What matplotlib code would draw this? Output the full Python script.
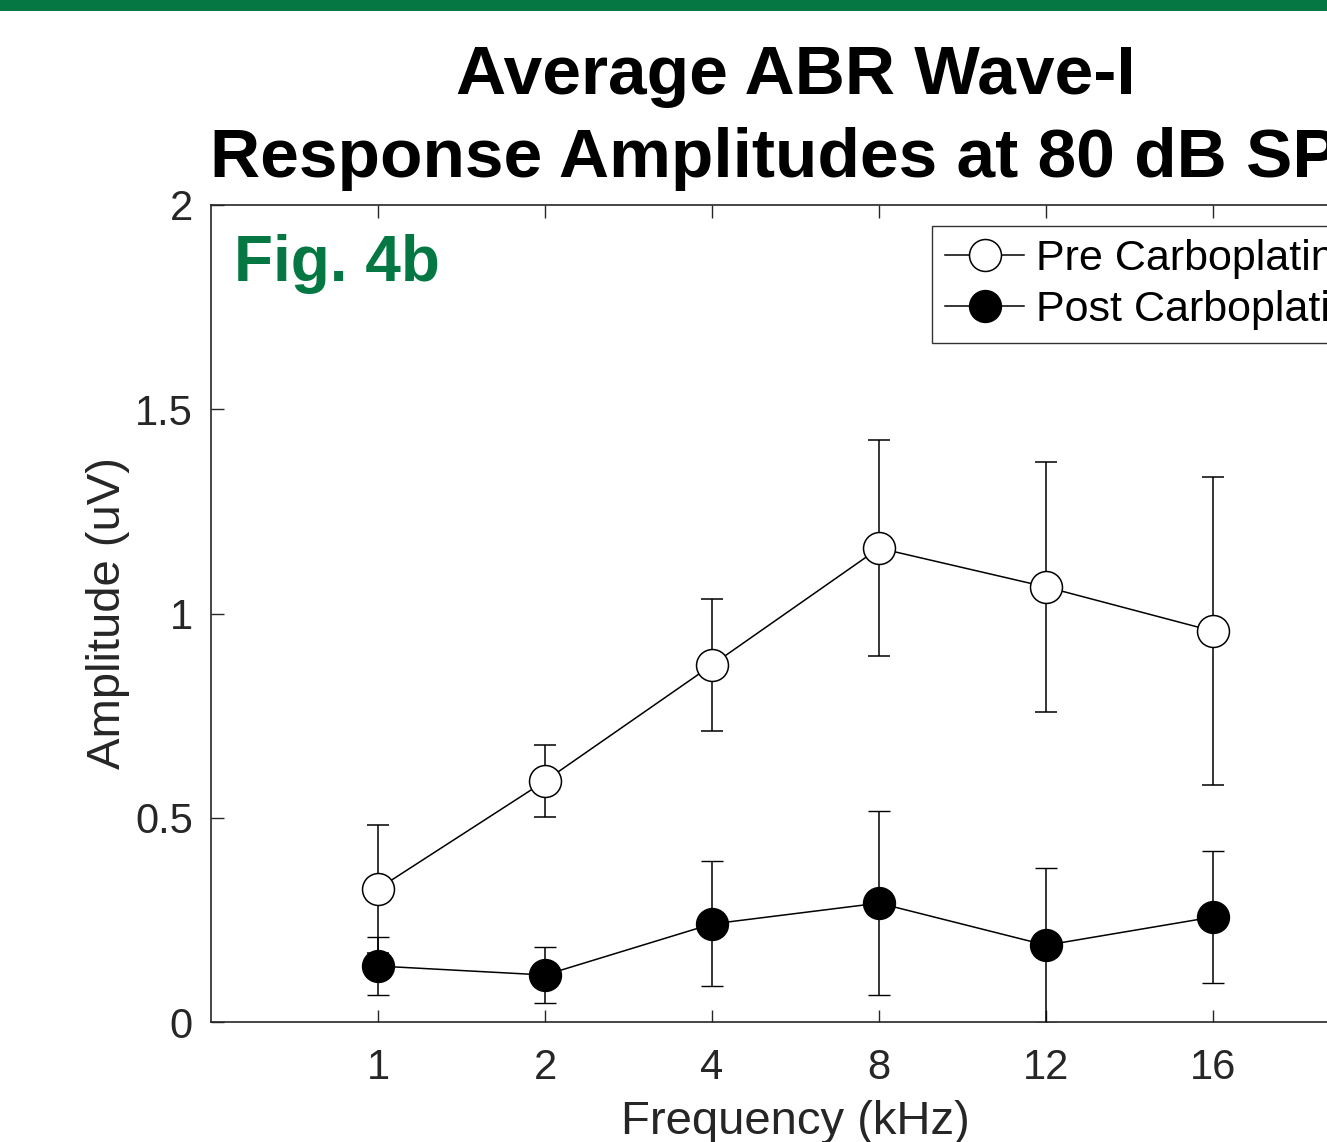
import numpy as np
import matplotlib
matplotlib.use('Agg')
import matplotlib.pyplot as plt
from matplotlib.lines import Line2D

plt.rcParams['font.family'] = ['Liberation Sans', 'DejaVu Sans']

freqs = ['1', '2', '4', '8', '12', '16']
pre_mean = [0.326, 0.590, 0.874, 1.160, 1.065, 0.957]
pre_err = [0.156, 0.087, 0.161, 0.265, 0.306, 0.377]
post_mean = [0.137, 0.115, 0.240, 0.291, 0.188, 0.257]
post_err = [0.072, 0.068, 0.153, 0.225, 0.190, 0.162]

fig = plt.figure(figsize=(13.27, 11.42), dpi=100, facecolor='w')
# green band across the top
fig.add_artist(plt.Rectangle((0, 1 - 11 / 1142), 1, 11 / 1142, transform=fig.transFigure,
                             color='#047743', lw=0))

# axes run past the right edge of the picture (reference is cropped)
ax = fig.add_axes([211 / 1327, 1 - 1022 / 1142, 1169 / 1327, 817 / 1142])
x = np.arange(1, len(freqs) + 1)

ax.errorbar(x, pre_mean, yerr=pre_err, color='k', lw=1.1, marker='o', ms=23,
            mfc='white', mec='k', mew=1.1, capsize=8, elinewidth=1.1, zorder=3)
ax.errorbar(x, post_mean, yerr=post_err, color='k', lw=1.1, marker='o', ms=23,
            mfc='k', mec='k', capsize=8, elinewidth=1.1, zorder=3)

ax.set_xlim(0, 7)
ax.set_ylim(0, 2)
ax.set_xticks(x)
ax.set_xticklabels(freqs)
ax.set_yticks([0, 0.5, 1, 1.5, 2])
ax.set_yticklabels(['0', '0.5', '1', '1.5', '2'])
ax.tick_params(direction='in', length=9, width=1, labelsize=30, colors='#262626',
               top=True, right=True)
ax.tick_params(axis='x', pad=19)
ax.tick_params(axis='y', pad=13)
for s in ax.spines.values():
    s.set_color('#262626')
    s.set_linewidth(1.2)

ax.set_xlabel('Frequency (kHz)', fontsize=34, color='#262626', labelpad=8)
ax.set_ylabel('Amplitude (uV)', fontsize=34, color='#262626', labelpad=4)
ax.set_title('Average ABR Wave-I\nResponse Amplitudes at 80 dB SPL', fontsize=50,
             fontweight='bold', linespacing=1.38, pad=20)

ax.text(0.02, 0.965, 'Fig. 4b', transform=ax.transAxes, fontsize=46,
        fontweight='bold', color='#047743', va='top', ha='left')

handles = [Line2D([], [], color='k', lw=1.1, marker='o', ms=23, mfc='white', mec='k', mew=1.1),
           Line2D([], [], color='k', lw=1.1, marker='o', ms=23, mfc='k', mec='k')]
leg = ax.legend(handles, ['Pre Carboplatin', 'Post Carboplatin'], loc='upper right',
                bbox_to_anchor=(1.0, 0.99), fontsize=31, frameon=True, fancybox=False,
                edgecolor='k', handlelength=1.85, handletextpad=0.28,
                borderpad=0.3, labelspacing=0.25, borderaxespad=0.3)
leg.get_frame().set_linewidth(1)

fig.savefig('out.png', dpi=100)
